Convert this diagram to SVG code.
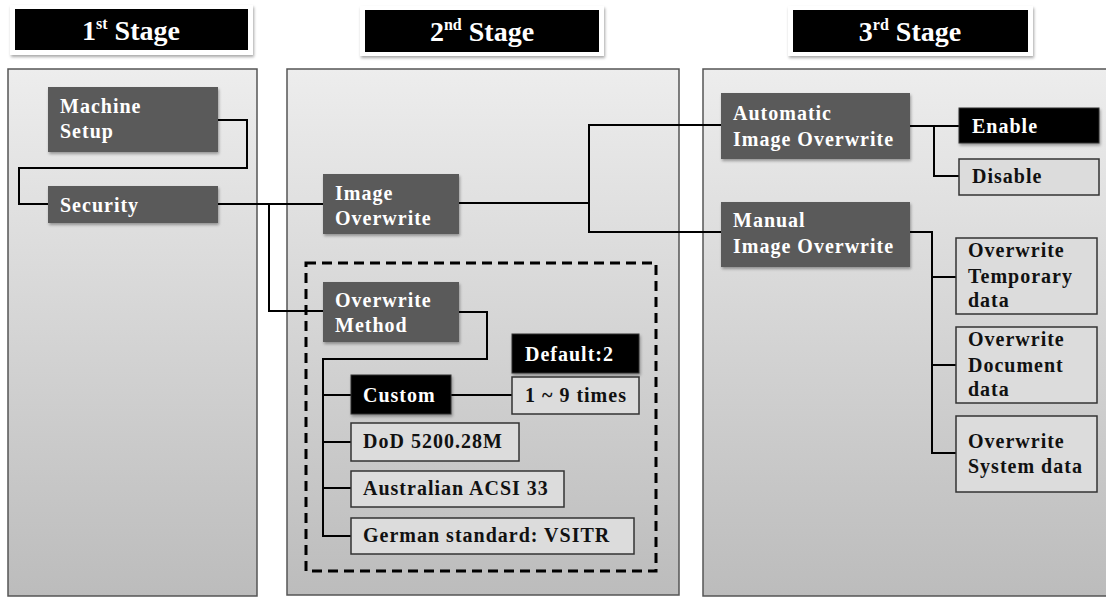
<svg xmlns="http://www.w3.org/2000/svg" width="1106" height="597" viewBox="0 0 1106 597">
<defs>
<linearGradient id="pg" x1="0" y1="0" x2="0" y2="1">
<stop offset="0" stop-color="#ededed"/>
<stop offset="1" stop-color="#bcbcbc"/>
</linearGradient>
<filter id="sh" x="-10%" y="-10%" width="125%" height="140%">
<feGaussianBlur in="SourceAlpha" stdDeviation="1.5"/>
<feOffset dx="1" dy="2" result="b"/>
<feComponentTransfer><feFuncA type="linear" slope="0.35"/></feComponentTransfer>
<feMerge><feMergeNode/><feMergeNode in="SourceGraphic"/></feMerge>
</filter>
</defs>
<style>
text{font-family:"Liberation Serif","Times New Roman",serif;font-weight:bold;}
.panel{fill:url(#pg);stroke:#555;stroke-width:1.5;}
.halo{fill:#fff;filter:url(#sh);}
.tbox{fill:#000;}
.ttl{fill:#fff;font-size:28px;text-anchor:middle;}
.dark{fill:#5a5a5a;filter:url(#sh);}
.blk{fill:#000;stroke:#333;stroke-width:1;filter:url(#sh);}
.lite{fill:#dcdcdc;stroke:#333;stroke-width:1.5;}
.wt{fill:#fff;font-size:20px;letter-spacing:1px;}
.bt{fill:#111;font-size:20px;letter-spacing:1px;}
.conn{fill:none;stroke:#000;stroke-width:2;}
.dash{fill:none;stroke:#000;stroke-width:3;stroke-dasharray:10 6;}
</style>
<g id="panels">
<rect class="panel" x="8" y="69" width="249" height="527"/>
<rect class="panel" x="287" y="69" width="392" height="526"/>
<rect class="panel" x="703" y="69" width="404" height="527"/>
</g>
<g id="title1">
<rect class="halo" x="10" y="5" width="243" height="50"/>
<rect class="tbox" x="15" y="9" width="233" height="41"/>
<text class="ttl" x="131" y="40">1<tspan font-size="16" dy="-11">st</tspan><tspan dy="11"> Stage</tspan></text>
</g>
<g id="title2">
<rect class="halo" x="360" y="6" width="244" height="50"/>
<rect class="tbox" x="365" y="10" width="234" height="42"/>
<text class="ttl" x="482" y="41">2<tspan font-size="16" dy="-11">nd</tspan><tspan dy="11"> Stage</tspan></text>
</g>
<g id="title3">
<rect class="halo" x="788" y="6" width="245" height="50"/>
<rect class="tbox" x="793" y="10" width="235" height="42"/>
<text class="ttl" x="910" y="41">3<tspan font-size="16" dy="-11">rd</tspan><tspan dy="11"> Stage</tspan></text>
</g>
<rect id="method-group" class="dash" x="306" y="263" width="350" height="308"/>
<g id="connectors">
<polyline class="conn" points="218,120 247,120 247,168 19,168 19,204 48,204"/>
<polyline class="conn" points="218,204 323,204"/>
<polyline class="conn" points="269,204 269,311 323,311"/>
<polyline class="conn" points="459,203 589,203"/>
<polyline class="conn" points="722,125 589,125 589,232 722,232"/>
<polyline class="conn" points="910,126 959,126"/>
<polyline class="conn" points="934,126 934,176 959,176"/>
<polyline class="conn" points="910,232 932,232 932,453 956,453"/>
<polyline class="conn" points="932,277 956,277"/>
<polyline class="conn" points="932,365 956,365"/>
<polyline class="conn" points="459,312 487,312 487,359 323,359 323,536 351,536"/>
<polyline class="conn" points="323,395 351,395"/>
<polyline class="conn" points="451,395 512,395"/>
<polyline class="conn" points="323,442 351,442"/>
<polyline class="conn" points="323,488 351,488"/>
</g>
<g id="machine-setup">
<rect class="dark" x="48" y="87" width="170" height="65"/>
<text class="wt" x="60" y="113">Machine</text>
<text class="wt" x="60" y="138">Setup</text>
</g>
<g id="security">
<rect class="dark" x="48" y="186" width="170" height="37"/>
<text class="wt" x="60" y="212">Security</text>
</g>
<g id="image-overwrite">
<rect class="dark" x="323" y="174" width="136" height="60"/>
<text class="wt" x="335" y="200">Image</text>
<text class="wt" x="335" y="225">Overwrite</text>
</g>
<g id="overwrite-method">
<rect class="dark" x="323" y="282" width="136" height="60"/>
<text class="wt" x="335" y="307">Overwrite</text>
<text class="wt" x="335" y="332">Method</text>
</g>
<g id="default2">
<rect class="blk" x="512" y="334" width="127" height="39"/>
<text class="wt" x="525" y="361">Default:2</text>
</g>
<g id="custom">
<rect class="blk" x="351" y="375" width="100" height="39"/>
<text class="wt" x="363" y="402">Custom</text>
</g>
<g id="times">
<rect class="lite" x="512" y="377" width="127" height="37"/>
<text class="bt" x="525" y="402">1 ~ 9 times</text>
</g>
<g id="dod">
<rect class="lite" x="351" y="423" width="168" height="38"/>
<text class="bt" x="363" y="448">DoD 5200.28M</text>
</g>
<g id="acsi">
<rect class="lite" x="351" y="471" width="213" height="36"/>
<text class="bt" x="363" y="495">Australian ACSI 33</text>
</g>
<g id="vsitr">
<rect class="lite" x="351" y="518" width="283" height="36"/>
<text class="bt" x="363" y="542">German standard: VSITR</text>
</g>
<g id="auto-overwrite">
<rect class="dark" x="721" y="93" width="189" height="66"/>
<text class="wt" x="733" y="120">Automatic</text>
<text class="wt" x="733" y="146">Image Overwrite</text>
</g>
<g id="enable">
<rect class="blk" x="959" y="108" width="140" height="35"/>
<text class="wt" x="972" y="133">Enable</text>
</g>
<g id="disable">
<rect class="lite" x="959" y="159" width="140" height="36"/>
<text class="bt" x="972" y="183">Disable</text>
</g>
<g id="manual-overwrite">
<rect class="dark" x="721" y="202" width="189" height="65"/>
<text class="wt" x="733" y="227">Manual</text>
<text class="wt" x="733" y="253">Image Overwrite</text>
</g>
<g id="temp-data">
<rect class="lite" x="956" y="238" width="141" height="76"/>
<text class="bt" x="968" y="257">Overwrite</text>
<text class="bt" x="968" y="283">Temporary</text>
<text class="bt" x="968" y="307">data</text>
</g>
<g id="doc-data">
<rect class="lite" x="956" y="327" width="141" height="76"/>
<text class="bt" x="968" y="346">Overwrite</text>
<text class="bt" x="968" y="372">Document</text>
<text class="bt" x="968" y="396">data</text>
</g>
<g id="sys-data">
<rect class="lite" x="956" y="416" width="141" height="76"/>
<text class="bt" x="968" y="448">Overwrite</text>
<text class="bt" x="968" y="473">System data</text>
</g>
</svg>
